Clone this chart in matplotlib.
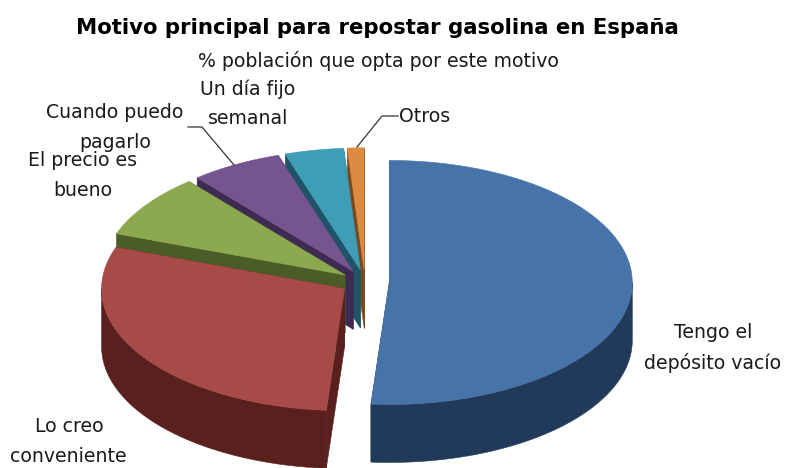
import numpy as np
import matplotlib
matplotlib.use("Agg")
import matplotlib.pyplot as plt
from matplotlib.patches import Polygon

# Survey shares, clockwise from 12 o'clock
motivos = ["Tengo el depósito vacío", "Lo creo conveniente", "El precio es bueno",
           "Cuando puedo pagarlo", "Un día fijo semanal", "Otros"]
porcentajes = [51.2, 29.3, 8.4, 6.1, 3.9, 1.1]
colores_sup = ["#4674A8", "#A64B48", "#8CA94F", "#74558F", "#409DB6", "#DE8A40"]
colores_lat = ["#223A5A", "#5A201D", "#4A5C27", "#3D2B52", "#1F5468", "#7A4A1C"]

# Pie projection in pixel units
CX, CY = 365.0, 282.0
RX, RY = 243.0, 122.0
FONDO = 58.0
EXPLOSION = 0.10

fig = plt.figure(figsize=(7.85, 4.68), dpi=100, facecolor="white")
ax = fig.add_axes([0, 0, 1, 1])
ax.set_xlim(0, 785)
ax.set_ylim(468, 0)
ax.axis("off")


def punto(c, ang):
    return np.array([c[0] + RX * np.sin(ang), c[1] - RY * np.cos(ang)])


bordes = np.radians(np.concatenate([[0], np.cumsum(porcentajes)]) * 3.6)
tramos = list(zip(bordes[:-1], bordes[1:], colores_sup, colores_lat))

# Paint from the back slice to the front one so nearer slices overlap
for a0, a1, sup, lat in reversed(tramos):
    med = (a0 + a1) / 2
    c = np.array([CX + RX * EXPLOSION * np.sin(med), CY - RY * EXPLOSION * np.cos(med)])
    baja = np.array([0, FONDO])
    for a in (a0, a1):
        p = punto(c, a)
        ax.add_patch(Polygon([c, p, p + baja, c + baja], fc=lat, ec=lat, lw=0.4))
    # outer wall, only on the half of the rim that faces the viewer
    r0, r1 = max(a0, np.pi / 2), min(a1, 3 * np.pi / 2)
    if r1 > r0:
        arco = np.array([punto(c, t) for t in np.linspace(r0, r1, 120)])
        ax.add_patch(Polygon(np.vstack([arco, (arco + baja)[::-1]]), fc=lat, ec=lat, lw=0.4))
    tapa = np.array([punto(c, t) for t in np.linspace(a0, a1, 160)])
    ax.add_patch(Polygon(np.vstack([c, tapa]), fc=sup, ec=sup, lw=0.4))

# Leader lines
ax.plot([234, 202, 188], [165, 127, 127], color="#333333", lw=0.9)
ax.plot([357, 382, 398], [147, 116, 116], color="#333333", lw=0.9)

ax.text(377, 28, "Motivo principal para repostar gasolina en España", ha="center", va="center",
        fontsize=15.3, fontweight="bold", color="#000000", family="DejaVu Sans")

estilo = dict(ha="center", va="center", fontsize=13.6, color="#1a1a1a", family="DejaVu Sans")
ax.text(378, 61, "% población que opta por este motivo", **estilo)
ax.text(248, 89, "Un día fijo", **estilo)
ax.text(248, 119, "semanal", **estilo)
ax.text(115, 112, "Cuando puedo", **estilo)
ax.text(115, 143, "pagarlo", **estilo)
ax.text(83, 160, "El precio es", **estilo)
ax.text(83, 191, "bueno", **estilo)
ax.text(425, 117, "Otros", **estilo)
ax.text(713, 333, "Tengo el", **estilo)
ax.text(713, 363, "depósito vacío", **estilo)
ax.text(69, 426, "Lo creo", **estilo)
ax.text(68, 456, "conveniente", **estilo)

fig.savefig("out.png", dpi=100)
